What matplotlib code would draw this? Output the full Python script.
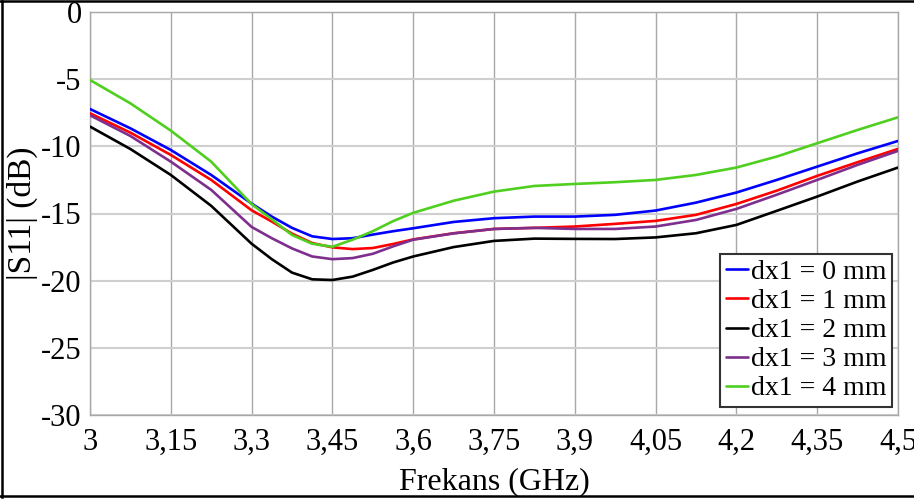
import matplotlib
matplotlib.use("Agg")
import matplotlib.pyplot as plt
from matplotlib.lines import Line2D

plt.rcParams['font.family'] = ['Liberation Serif', 'DejaVu Serif']
plt.rcParams['axes.unicode_minus'] = False

# frequency points (GHz)
freq = [3.0, 3.075, 3.15, 3.225, 3.3, 3.3375, 3.375, 3.4125, 3.45, 3.4875,
        3.525, 3.5625, 3.6, 3.675, 3.75, 3.825, 3.9, 3.975, 4.05, 4.125,
        4.2, 4.275, 4.35, 4.425, 4.5]

# |S11| in dB for each dx1 offset
s11_dx0 = [-7.22, -8.66, -10.27, -12.13, -14.26, -15.23, -16.07, -16.7, -16.9, -16.84,
           -16.57, -16.32, -16.1, -15.63, -15.35, -15.23, -15.23, -15.1, -14.78, -14.19,
           -13.44, -12.5, -11.51, -10.52, -9.6]
s11_dx1 = [-7.54, -8.98, -10.64, -12.5, -14.76, -15.6, -16.5, -17.2, -17.52, -17.65,
           -17.57, -17.27, -16.93, -16.47, -16.15, -16.07, -15.97, -15.77, -15.55, -15.1,
           -14.29, -13.3, -12.2, -11.18, -10.19]
s11_dx2 = [-8.53, -10.2, -12.13, -14.43, -17.25, -18.4, -19.4, -19.9, -19.95, -19.7,
           -19.2, -18.65, -18.2, -17.5, -17.04, -16.87, -16.89, -16.9, -16.78, -16.47,
           -15.85, -14.8, -13.74, -12.62, -11.58]
s11_dx3 = [-7.69, -9.23, -11.14, -13.24, -16.0, -16.84, -17.6, -18.2, -18.4, -18.32,
           -18.0, -17.45, -16.95, -16.48, -16.15, -16.07, -16.15, -16.15, -15.97, -15.48,
           -14.66, -13.6, -12.5, -11.38, -10.34]
s11_dx4 = [-5.06, -6.8, -8.83, -11.14, -14.3, -15.43, -16.6, -17.25, -17.48, -16.95,
           -16.32, -15.57, -14.95, -14.05, -13.37, -12.95, -12.8, -12.67, -12.5, -12.13,
           -11.58, -10.76, -9.77, -8.78, -7.84]

labels = ['dx1 = 0 mm', 'dx1 = 1 mm', 'dx1 = 2 mm', 'dx1 = 3 mm', 'dx1 = 4 mm']
colors = ['#0000ff', '#ff0000', '#000000', '#7e2f8e', '#4fcf1f']

xticks = [3.0, 3.15, 3.3, 3.45, 3.6, 3.75, 3.9, 4.05, 4.2, 4.35, 4.5]
xtick_labels = ['3', '3,15', '3,3', '3,45', '3,6', '3,75', '3,9', '4,05', '4,2', '4,35', '4,5']
yticks = [0, -5, -10, -15, -20, -25, -30]

fig = plt.figure(figsize=(9.14, 4.99), dpi=100)
ax = fig.add_axes([90 / 914, 84 / 499, 808 / 914, 403 / 499])

series = [s11_dx0, s11_dx1, s11_dx2, s11_dx3, s11_dx4]
for ys, lab, c in zip(series, labels, colors):
    ax.plot(freq, ys, color=c, lw=1.9, label=lab, zorder=3,
            solid_joinstyle='round', solid_capstyle='round')

ax.set_xlim(3.0, 4.5)
ax.set_ylim(-30, 0)
ax.set_xticks(xticks)
ax.set_xticklabels(xtick_labels)
ax.set_yticks(yticks)
ax.tick_params(length=0, labelsize=22)
ax.tick_params(axis='x', pad=9)
ax.tick_params(axis='y', pad=6)

ax.grid(axis='x', color='#a8a8a8', lw=1.0)
ax.grid(axis='y', color='#cfcfcf', lw=1.5)
for sp in ax.spines.values():
    sp.set_color('#a8a8a8')
    sp.set_linewidth(1.0)

ax.set_xlabel('Frekans (GHz)', fontsize=23, labelpad=8)
ax.set_ylabel('|S11| (dB)', fontsize=24, labelpad=2)

leg = ax.legend(loc='lower right', bbox_to_anchor=(0.9926, 0.02), borderaxespad=0,
                fontsize=20, handlelength=0.8, handletextpad=0.1, labelspacing=0.13,
                borderpad=0.2, fancybox=False, framealpha=1)
leg.get_frame().set_edgecolor('#333333')
leg.get_frame().set_linewidth(1.5)

# outer frame (left, top, bottom)
fig.add_artist(Line2D([0.002, 0.002], [0.004, 0.997], color='black', lw=1.8))
fig.add_artist(Line2D([0.0, 1.0], [0.997, 0.997], color='black', lw=1.8))
fig.add_artist(Line2D([0.0, 1.0], [0.006, 0.006], color='black', lw=1.8))

fig.savefig('out.png', dpi=100)
